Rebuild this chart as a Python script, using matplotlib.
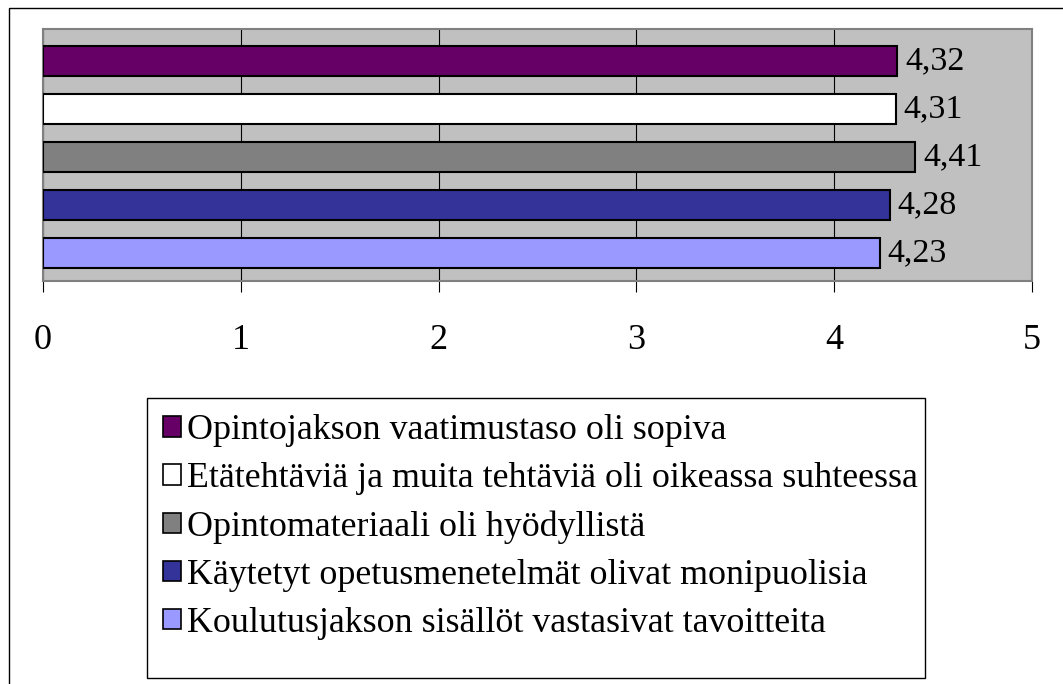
import matplotlib.pyplot as plt
from matplotlib.patches import Patch, Rectangle

plt.rcParams.update({
    "font.family": "Liberation Serif",
    "figure.dpi": 100,
})

# data (top to bottom as drawn)
labels = [
    "Opintojakson vaatimustaso oli sopiva",
    "Etätehtäviä ja muita tehtäviä oli oikeassa suhteessa",
    "Opintomateriaali oli hyödyllistä",
    "Käytetyt opetusmenetelmät olivat monipuolisia",
    "Koulutusjakson sisällöt vastasivat tavoitteita",
]
values = [4.32, 4.31, 4.41, 4.28, 4.23]
colors = ["#660066", "#FFFFFF", "#808080", "#333399", "#9999FF"]
xticks = [0, 1, 2, 3, 4, 5]

W, H = 1063, 684
fig = plt.figure(figsize=(W / 100, H / 100))

# outer chart frame (Excel style)
fig.patches.append(Rectangle((9 / W, -0.05), 1.0, 1 - 8 / H + 0.05, transform=fig.transFigure,
                             fill=False, edgecolor="black", linewidth=1.0))

ax = fig.add_axes([43 / W, 1 - 281 / H, (1032 - 43) / W, (281 - 29) / H])
ax.set_facecolor("#C0C0C0")

pos = list(range(len(values)))
ax.barh(pos, values, height=0.64, color=colors, edgecolor="black", linewidth=1.5, zorder=3)

for y, v in zip(pos, values):
    ax.text(v + 0.04, y, f"{v:.2f}".replace(".", ","), va="center", ha="left",
            fontsize=24.5, zorder=4)

ax.set_xlim(0, 5)
ax.set_ylim(4.583, -0.667)
ax.set_xticks(xticks)
ax.set_xticklabels([str(t) for t in xticks], fontsize=26)
ax.set_yticks([])
ax.tick_params(axis="x", direction="out", length=8, width=0.8, color="black", pad=23)
ax.grid(axis="x", color="black", linewidth=0.8, zorder=1)
for s in ax.spines.values():
    s.set_color("#808080")
    s.set_linewidth(1.5)

# legend box (Excel leaves extra room at the bottom)
fig.patches.append(Rectangle((147 / W, 1 - 678 / H), (925 - 147) / W, (678 - 398) / H,
                             transform=fig.transFigure, facecolor="white",
                             edgecolor="black", linewidth=1.0))

handles = [Patch(facecolor=c, edgecolor="black", linewidth=1.2) for c in colors]
leg = fig.legend(handles, labels, loc="upper left", bbox_to_anchor=(147 / W, 1 - 398 / H),
                 fontsize=25.8, frameon=False, handlelength=0.5, handleheight=0.5,
                 handletextpad=0.16, labelspacing=0.42, borderpad=0.45, borderaxespad=0)

plt.savefig("out.png", dpi=100)
